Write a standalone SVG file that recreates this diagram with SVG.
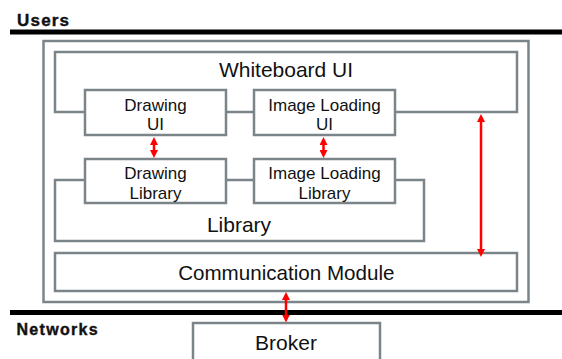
<svg xmlns="http://www.w3.org/2000/svg" width="562" height="359" viewBox="0 0 562 359">
<defs>
<style>
.box{fill:#fff;stroke:#7b8589;stroke-width:2.5}
.frame{fill:none;stroke:#7b8589;stroke-width:2.5}
.t{font-family:"Liberation Sans",Arial,sans-serif;fill:#111;text-anchor:middle}
.s{font-size:17px}
.l{font-size:21px}
.h{font-family:"Liberation Sans",Arial,sans-serif;font-weight:bold;fill:#111;stroke:#111;stroke-width:0.4}
.bar{stroke:#000;stroke-width:5}
.arr{stroke:#ff0000;stroke-width:2.5;fill:none;marker-start:url(#ah);marker-end:url(#ah)}
</style>
<marker id="ah" viewBox="0 0 8 8" refX="4" refY="4" markerWidth="8" markerHeight="8" markerUnits="userSpaceOnUse" orient="auto-start-reverse">
<path d="M0,0 L8,4 L0,8 z" fill="#ff0000"/>
</marker>
</defs>
<g id="layers">
<line class="bar" x1="10" y1="32" x2="562" y2="32"/>
<line class="bar" x1="10" y1="312.5" x2="562" y2="312.5"/>
<text class="h" x="17" y="25.5" font-size="17" letter-spacing="1.2">Users</text>
<text class="h" x="16.5" y="335" font-size="16" letter-spacing="1.3">Networks</text>
</g>
<g id="client">
<rect class="frame" x="43.5" y="41" width="485" height="261"/>
</g>
<g id="whiteboard-ui">
<rect class="box" x="55" y="52" width="462" height="60"/>
<text class="t l" x="286" y="76.7">Whiteboard UI</text>
</g>
<g id="library">
<rect class="box" x="55" y="180" width="369" height="61"/>
<text class="t l" x="239" y="231.7">Library</text>
</g>
<g id="drawing-ui">
<rect class="box" x="85" y="90" width="141" height="45"/>
<text class="t s" x="155.5" y="110.5">Drawing</text>
<text class="t s" x="155.5" y="130">UI</text>
</g>
<g id="image-loading-ui">
<rect class="box" x="254" y="90" width="141" height="45"/>
<text class="t s" x="324.5" y="110.5">Image Loading</text>
<text class="t s" x="324.5" y="130">UI</text>
</g>
<g id="drawing-library">
<rect class="box" x="85" y="159" width="141" height="44"/>
<text class="t s" x="155.5" y="178.5">Drawing</text>
<text class="t s" x="155.5" y="198.5">Library</text>
</g>
<g id="image-loading-library">
<rect class="box" x="254" y="159" width="141" height="44"/>
<text class="t s" x="324.5" y="178.5">Image Loading</text>
<text class="t s" x="324.5" y="198.5">Library</text>
</g>
<g id="communication-module">
<rect class="box" x="55" y="253" width="462" height="38"/>
<text class="t" x="286.3" y="280" font-size="20.6">Communication Module</text>
</g>
<g id="broker">
<rect class="box" x="193" y="323" width="187" height="50"/>
<text class="t l" x="286" y="350">Broker</text>
</g>
<g id="connectors">
<line class="arr" x1="154" y1="141" x2="154" y2="154"/>
<line class="arr" x1="323.5" y1="141" x2="323.5" y2="154"/>
<line class="arr" x1="481" y1="118" x2="481" y2="253"/>
<line class="arr" x1="286" y1="296" x2="286" y2="318.5"/>
</g>
</svg>
